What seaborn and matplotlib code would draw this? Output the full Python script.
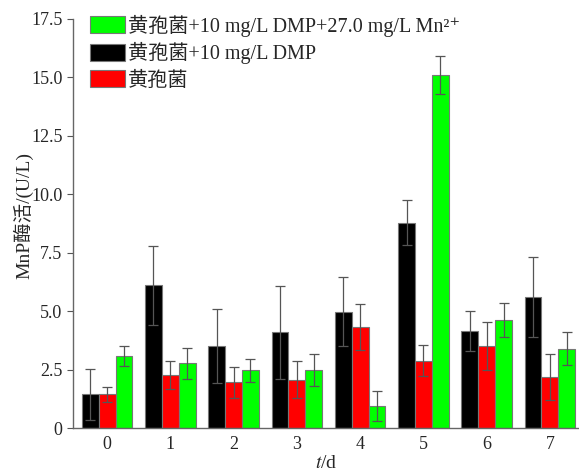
import matplotlib
matplotlib.use("Agg")
import matplotlib.pyplot as plt
import seaborn as sns
import pandas as pd
import numpy as np

days = ["0", "1", "2", "3", "4", "5", "6", "7"]
series_names = ["黄孢菌+10 mg/L DMP", "黄孢菌", "黄孢菌+10 mg/L DMP+27.0 mg/L Mn²⁺"]
dmp = [1.44, 6.10, 3.51, 4.09, 4.98, 8.79, 4.14, 5.59]
dmp_err = [1.10, 1.68, 1.57, 2.00, 1.47, 0.97, 0.85, 1.71]
fungus = [1.44, 2.25, 1.95, 2.07, 4.32, 2.88, 3.51, 2.17]
fungus_err = [0.33, 0.60, 0.67, 0.78, 0.97, 0.66, 1.01, 0.98]
mn = [3.08, 2.77, 2.47, 2.47, 0.93, 15.10, 4.62, 3.39]
mn_err = [0.42, 0.67, 0.48, 0.68, 0.64, 0.80, 0.71, 0.70]
colors = ["#000000", "#ff0000", "#00ff00"]
yticks = [0, 2.5, 5.0, 7.5, 10.0, 12.5, 15.0, 17.5]
ytick_labels = ["0", "2.5", "5.0", "7.5", "10.0", "12.5", "15.0", "17.5"]

sns.set_style("ticks")
plt.rcParams["font.family"] = ["Liberation Serif", "Noto Sans CJK SC", "DejaVu Serif"]
plt.rcParams["mathtext.fontset"] = "stix"

rows = []
for vals, errs, name in zip([dmp, fungus, mn], [dmp_err, fungus_err, mn_err], series_names):
    for d, v, e in zip(days, vals, errs):
        rows.append({"day": d, "value": v, "err": e, "series": name})
df = pd.DataFrame(rows)

fig = plt.figure(figsize=(5.79, 4.73), dpi=100)
ax = fig.add_axes([0.126, 0.095, 0.874, 0.865])

sns.barplot(data=df, x="day", y="value", hue="series", hue_order=series_names,
            order=days, palette=colors, width=0.8, edgecolor="#777777",
            linewidth=0.8, errorbar=None, ax=ax, saturation=1)

# error bars at bar centers
patches = [p for p in ax.patches if p.get_width() > 0][:len(df)]
for i, name in enumerate(series_names):
    sub = df[df["series"] == name]
    for j, (_, r) in enumerate(sub.iterrows()):
        p = patches[i * len(days) + j]
        xc = p.get_x() + p.get_width() / 2
        ax.errorbar(xc, r["value"], yerr=r["err"], fmt="none",
                    ecolor="#555555", elinewidth=0.9, capsize=3.5, capthick=0.9, zorder=5)

ax.set_xlim(-0.54, 7.46)
ax.set_ylim(0, 17.5)
ax.set_yticks(yticks)
ax.set_yticklabels(ytick_labels)
ax.tick_params(axis="both", labelsize=13, direction="out", length=4, color="#555555")
ax.tick_params(axis="x", length=0, pad=6)
for s in ["top", "right"]:
    ax.spines[s].set_visible(False)
for s in ["left", "bottom"]:
    ax.spines[s].set_color("#666666")
    ax.spines[s].set_linewidth(1.0)

ax.set_xlabel("$t$/d", fontsize=14, labelpad=1)
ax.set_ylabel("MnP酶活/(U/L)", fontsize=14)
ax.yaxis.set_label_coords(-0.079, 0.52)

handles, labels = ax.get_legend_handles_labels()
order = [2, 0, 1]
ax.legend([handles[k] for k in order], [labels[k] for k in order],
          loc="upper left", bbox_to_anchor=(0.01, 1.04), frameon=False,
          fontsize=14.5, handlelength=1.75, handleheight=0.95, handletextpad=0.15,
          labelspacing=0.28, borderaxespad=0.2)

fig.savefig("out.png", dpi=100)
